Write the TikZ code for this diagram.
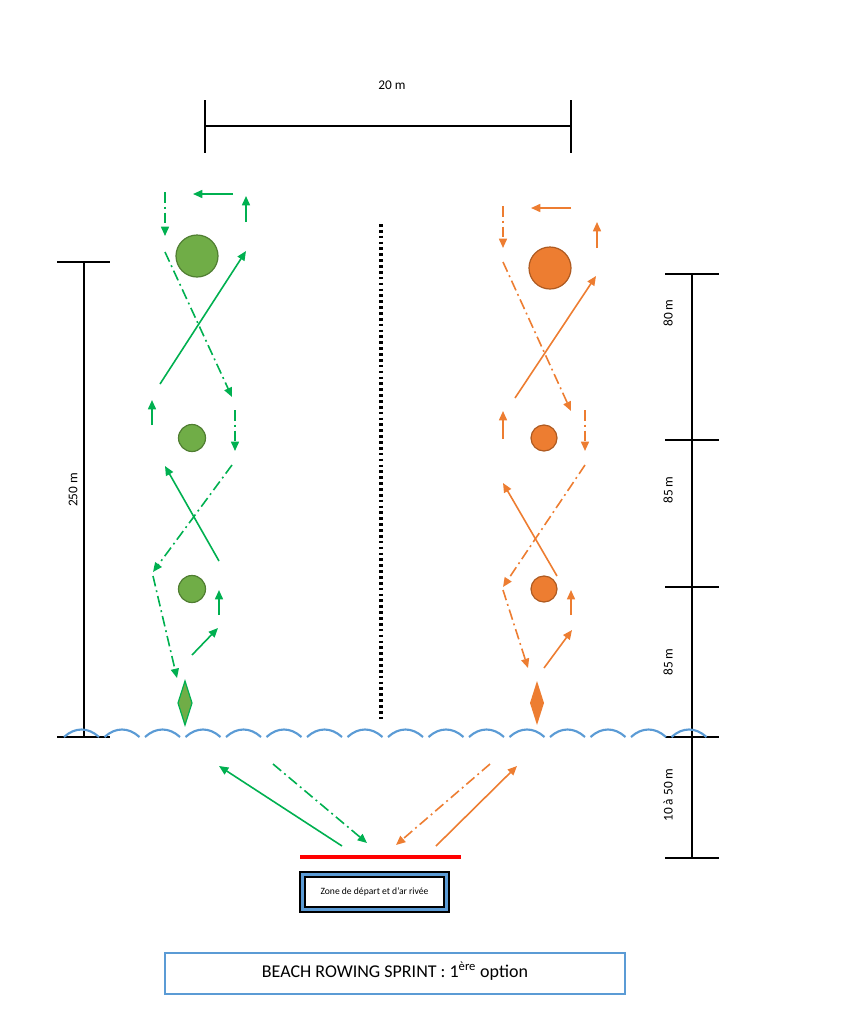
\documentclass[tikz,border=0pt]{standalone}
\usepackage{fontspec}
\setmainfont{Carlito}
\usepackage{tikz}
\usetikzlibrary{arrows.meta}
\definecolor{lanegreen}{HTML}{00B050}
\definecolor{buoygreen}{HTML}{70AD47}
\definecolor{buoygreenrim}{HTML}{507E32}
\definecolor{laneorange}{HTML}{ED7D31}
\definecolor{buoyorangerim}{HTML}{AE5A21}
\definecolor{waveblue}{HTML}{5B9BD5}

\begin{document}
\begin{tikzpicture}[x=0.75pt,y=-0.75pt,
    dimline/.style={black,line width=1.1pt},
    dimlabel/.style={font=\fontsize{10}{12}\selectfont,inner sep=1pt},
    course/.style={line width=1.2pt,-{Triangle[width=6pt,length=7pt]}},
    dashdot/.style={course,dash pattern=on 8pt off 3pt on 1.4pt off 3pt}]
    \useasboundingbox (0,0) rectangle (847,1018);
    % largeur du bassin
    \draw[dimline] (205,126) -- (571,126);
    \draw[dimline] (205,100) -- (205,153);
    \draw[dimline] (571,100) -- (571,153);
    \node[dimlabel] (width) at (392,85) {20 m};
    % longueur totale
    \draw[dimline] (84,262) -- (84,737);
    \draw[dimline] (57,262) -- (110,262);
    \draw[dimline] (57,737) -- (110,737);
    \node[dimlabel,rotate=90] (total) at (73,490) {250 m};
    % distances entre bouees
    \draw[dimline] (692,274) -- (692,858);
    \foreach \y in {274,440,587,737,858}
        \draw[dimline] (665,\y) -- (719,\y);
    \node[dimlabel,rotate=90] (legA) at (668,313) {80 m};
    \node[dimlabel,rotate=90] (legB) at (668,490) {85 m};
    \node[dimlabel,rotate=90] (legC) at (668,662) {85 m};
    \node[dimlabel,rotate=90] (legD) at (668,795) {10 à 50 m};
    % separation des couloirs
    \draw[black,line width=2.4pt,dash pattern=on 2pt off 2.4pt] (381,224) -- (381,720);
    % vagues
    \foreach \i in {0,...,15}
        \draw[waveblue,line width=1.6pt] ({64+40.5*\i},737) .. controls ({75+40.5*\i},727) and ({88+40.5*\i},727) .. ({99+40.5*\i},737);
    % bouees vertes
    \draw[buoygreenrim,fill=buoygreen,line width=0.9pt] (197,256) circle [radius=21];
    \draw[buoygreenrim,fill=buoygreen,line width=0.9pt] (192,438) circle [radius=13.5];
    \draw[buoygreenrim,fill=buoygreen,line width=0.9pt] (192,589) circle [radius=13.5];
    \draw[lanegreen,fill=buoygreen,line width=0.9pt] (185,681) -- (192,703) -- (185,725) -- (178,703) -- cycle;
    % parcours vert
    \draw[lanegreen,dashdot] (165,192) -- (165,236);
    \draw[lanegreen,course] (233,194) -- (193,194);
    \draw[lanegreen,course] (246,222) -- (246,196);
    \draw[lanegreen,dashdot] (165,252) -- (232,397);
    \draw[lanegreen,course] (160,384) -- (246,251);
    \draw[lanegreen,course] (152,425) -- (152,400);
    \draw[lanegreen,dashdot] (235,410) -- (235,451);
    \draw[lanegreen,course] (219,561) -- (165,466);
    \draw[lanegreen,dashdot] (232,465) -- (153,572);
    \draw[lanegreen,dashdot] (153,576) -- (177,678);
    \draw[lanegreen,course] (219,615) -- (219,590);
    \draw[lanegreen,course] (192,655) -- (218,628);
    \draw[lanegreen,course] (342,846) -- (219,766);
    \draw[lanegreen,dashdot] (273,764) -- (367,843);
    % bouees orange
    \draw[buoyorangerim,fill=laneorange,line width=0.9pt] (550,268) circle [radius=21];
    \draw[buoyorangerim,fill=laneorange,line width=0.9pt] (544,438) circle [radius=13];
    \draw[buoyorangerim,fill=laneorange,line width=0.9pt] (544,589) circle [radius=13];
    \fill[laneorange] (537,681) -- (544,703) -- (537,725) -- (530,703) -- cycle;
    % parcours orange
    \draw[laneorange,dashdot] (503,206) -- (503,248);
    \draw[laneorange,course] (571,208) -- (531,208);
    \draw[laneorange,course] (597,248) -- (597,222);
    \draw[laneorange,dashdot] (503,262) -- (571,411);
    \draw[laneorange,course] (515,398) -- (596,276);
    \draw[laneorange,course] (503,439) -- (503,411);
    \draw[laneorange,dashdot] (585,410) -- (585,451);
    \draw[laneorange,course] (557,576) -- (503,483);
    \draw[laneorange,dashdot] (585,465) -- (503,587);
    \draw[laneorange,dashdot] (503,590) -- (528,668);
    \draw[laneorange,course] (571,615) -- (571,590);
    \draw[laneorange,course] (544,668) -- (572,630);
    \draw[laneorange,dashdot] (490,764) -- (396,845);
    \draw[laneorange,course] (436,846) -- (517,766);
    % ligne de depart
    \draw[red,line width=2.4pt] (300,857) -- (461,857);
    \draw[black,fill=waveblue,line width=0.8pt] (300,872) rectangle (449,912);
    \draw[black,fill=white,line width=0.8pt] (305,877) rectangle (444,907);
    \node[font=\fontsize{7.2}{8}\selectfont] (start) at (374.5,892) {Zone de départ et d’ar rivée};
    % titre
    \draw[waveblue,line width=1pt] (165,953) rectangle (625,994);
    \node[font=\fontsize{13.5}{15}\selectfont] (title) at (395,971) {BEACH ROWING SPRINT : 1\textsuperscript{ère} option};
\end{tikzpicture}
\end{document}
